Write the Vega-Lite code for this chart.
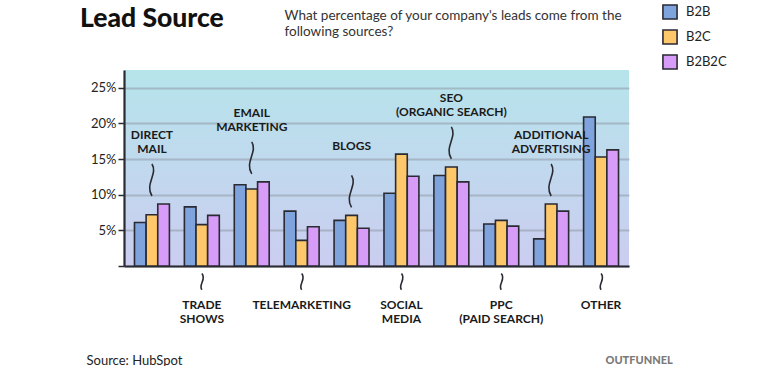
{
  "$schema": "https://vega.github.io/schema/vega-lite/v6.json",
  "autosize": {"type": "none"},
  "width": 505,
  "height": 196,
  "padding": {"left": 124, "top": 70, "right": 138, "bottom": 100},
  "background": "white",
  "title": {"text": "Lead Source", "anchor": "start", "frame": "group", "dx": -44, "dy": 38, "offset": 10, "font": "Lato", "fontSize": 26.5, "fontWeight": 900, "color": "#111111"},
  "datasets": {
    "leads": [
      {"category": "Direct Mail", "segment": "B2B", "value": 6.1},
      {"category": "Direct Mail", "segment": "B2C", "value": 7.2},
      {"category": "Direct Mail", "segment": "B2B2C", "value": 8.7},
      {"category": "Trade Shows", "segment": "B2B", "value": 8.3},
      {"category": "Trade Shows", "segment": "B2C", "value": 5.8},
      {"category": "Trade Shows", "segment": "B2B2C", "value": 7.1},
      {"category": "Email Marketing", "segment": "B2B", "value": 11.4},
      {"category": "Email Marketing", "segment": "B2C", "value": 10.8},
      {"category": "Email Marketing", "segment": "B2B2C", "value": 11.8},
      {"category": "Telemarketing", "segment": "B2B", "value": 7.7},
      {"category": "Telemarketing", "segment": "B2C", "value": 3.6},
      {"category": "Telemarketing", "segment": "B2B2C", "value": 5.5},
      {"category": "Blogs", "segment": "B2B", "value": 6.4},
      {"category": "Blogs", "segment": "B2C", "value": 7.1},
      {"category": "Blogs", "segment": "B2B2C", "value": 5.3},
      {"category": "Social Media", "segment": "B2B", "value": 10.2},
      {"category": "Social Media", "segment": "B2C", "value": 15.7},
      {"category": "Social Media", "segment": "B2B2C", "value": 12.6},
      {"category": "SEO (Organic Search)", "segment": "B2B", "value": 12.7},
      {"category": "SEO (Organic Search)", "segment": "B2C", "value": 13.9},
      {"category": "SEO (Organic Search)", "segment": "B2B2C", "value": 11.8},
      {"category": "PPC (Paid Search)", "segment": "B2B", "value": 5.9},
      {"category": "PPC (Paid Search)", "segment": "B2C", "value": 6.4},
      {"category": "PPC (Paid Search)", "segment": "B2B2C", "value": 5.6},
      {"category": "Additional Advertising", "segment": "B2B", "value": 3.8},
      {"category": "Additional Advertising", "segment": "B2C", "value": 8.7},
      {"category": "Additional Advertising", "segment": "B2B2C", "value": 7.7},
      {"category": "Other", "segment": "B2B", "value": 20.9},
      {"category": "Other", "segment": "B2C", "value": 15.3},
      {"category": "Other", "segment": "B2B2C", "value": 16.3}
    ]
  },
  "data": {"name": "leads"},
  "encoding": {
    "y": {
      "field": "value", "type": "quantitative", "scale": {"domain": [0, 27.5]},
      "axis": {
        "title": ["What percentage of your company's leads come from the", "following sources?"],
        "titleAngle": 0, "titleX": 160, "titleY": -62, "titleAlign": "left", "titleBaseline": "top", "titleAnchor": null,
        "titleFont": "Lato", "titleFontSize": 13.5, "titleFontWeight": "normal", "titleColor": "#333333", "titleLineHeight": 16,
        "values": [0, 5, 10, 15, 20, 25],
        "labelExpr": "datum.value == 0 ? '' : datum.value + '%'",
        "labelFont": "Lato", "labelFontSize": 13, "labelColor": "#222222", "labelPadding": 2, "labelOverlap": false,
        "ticks": true, "tickSize": 6, "tickColor": "#2a2a33", "tickWidth": 1.5,
        "domainColor": "#2a2a33", "domainWidth": 2.2,
        "grid": true, "gridColor": "#8f99a6", "gridWidth": 2, "gridOpacity": 0.55
      }
    }
  },
  "layer": [
    {
      "mark": {"type": "bar", "stroke": "#2a2a33", "strokeWidth": 1.6},
      "encoding": {
        "x": {
          "field": "category", "type": "nominal",
          "sort": ["Direct Mail", "Trade Shows", "Email Marketing", "Telemarketing", "Blogs", "Social Media", "SEO (Organic Search)", "PPC (Paid Search)", "Additional Advertising", "Other"],
          "scale": {"paddingInner": 0.3, "paddingOuter": 0.21},
          "axis": {
            "title": "Source: HubSpot", "titleX": -38, "titleY": 94, "titleAnchor": null, "titleAlign": "left", "titleBaseline": "middle",
            "titleFont": "Lato", "titleFontSize": 13, "titleFontWeight": "normal", "titleColor": "#222222",
            "labelAngle": 0, "ticks": false, "labelPadding": 38, "labelBaseline": "middle", "labelOverlap": false, "labelLimit": 0,
            "labelFont": "Lato", "labelFontWeight": "bold", "labelFontSize": 12, "labelLineHeight": 14.5, "labelColor": "#1a1a1a",
            "labelExpr": "indexof(['Trade Shows','Telemarketing','Social Media','PPC (Paid Search)','Other'], datum.label) >= 0 ? (indexof(datum.label,'(') > 0 ? [upper(slice(datum.label,0,indexof(datum.label,' ('))), upper(slice(datum.label,indexof(datum.label,'(')))] : split(upper(datum.label),' ')) : ''",
            "domainColor": "#2a2a33", "domainWidth": 2.2
          }
        },
        "xOffset": {"field": "segment", "type": "nominal", "sort": ["B2B", "B2C", "B2B2C"], "scale": {"paddingInner": 0}},
        "fill": {
          "field": "segment", "type": "nominal",
          "scale": {"domain": ["B2B", "B2C", "B2B2C"], "range": ["#7fa3dc", "#fdc76a", "#d69cf7"]},
          "legend": {
            "orient": "none", "legendX": 538, "legendY": -66, "title": null,
            "symbolType": "square", "symbolSize": 200, "symbolStrokeColor": "#2a2a33", "symbolStrokeWidth": 1.6,
            "labelFont": "Lato", "labelFontSize": 13, "labelColor": "#222222", "rowPadding": 3, "labelOffset": 8
          }
        }
      }
    },
    {
      "transform": [
        {"aggregate": [{"op": "max", "field": "value", "as": "value"}], "groupby": ["category"]},
        {"filter": "indexof(['Direct Mail','Email Marketing','Blogs','SEO (Organic Search)','Additional Advertising'], datum.category) >= 0"},
        {"calculate": "indexof(datum.category,'(') > 0 ? [upper(slice(datum.category,0,indexof(datum.category,' ('))), upper(slice(datum.category,indexof(datum.category,'(')))] : split(upper(datum.category),' ')", "as": "label"}
      ],
      "mark": {"type": "text", "baseline": "bottom", "dy": -62, "font": "Lato", "fontWeight": "bold", "fontSize": 12, "lineHeight": 14.5, "color": "#1a1a1a"},
      "encoding": {
        "x": {
          "field": "category", "type": "nominal",
          "sort": ["Direct Mail", "Trade Shows", "Email Marketing", "Telemarketing", "Blogs", "Social Media", "SEO (Organic Search)", "PPC (Paid Search)", "Additional Advertising", "Other"],
          "axis": {
            "orient": "top", "title": "OUTFUNNEL", "titleX": 481, "titleY": 290, "titleAnchor": null, "titleAlign": "left", "titleBaseline": "middle",
            "titleFont": "Lato", "titleFontSize": 11, "titleFontWeight": 900, "titleColor": "#7a7a7a",
            "labels": false, "ticks": false, "domain": false, "grid": false
          }
        },
        "text": {"field": "label"}
      }
    },
    {
      "transform": [
        {"aggregate": [{"op": "max", "field": "value", "as": "value"}], "groupby": ["category"]},
        {"filter": "indexof(['Direct Mail','Email Marketing','Blogs','SEO (Organic Search)','Additional Advertising'], datum.category) >= 0"}
      ],
      "mark": {"type": "point", "shape": "M0,-0.32 C-0.3,-0.8 0.25,-1.2 0,-1.6", "size": 2500, "filled": false, "stroke": "#2a2a33", "strokeWidth": 1.6, "opacity": 1},
      "encoding": {
        "x": {
          "field": "category", "type": "nominal",
          "sort": ["Direct Mail", "Trade Shows", "Email Marketing", "Telemarketing", "Blogs", "Social Media", "SEO (Organic Search)", "PPC (Paid Search)", "Additional Advertising", "Other"],
          "axis": null
        }
      }
    },
    {
      "transform": [
        {"aggregate": [{"op": "min", "field": "value", "as": "value"}], "groupby": ["category"]},
        {"filter": "indexof(['Trade Shows','Telemarketing','Social Media','PPC (Paid Search)','Other'], datum.category) >= 0"}
      ],
      "mark": {"type": "point", "shape": "M0,0.3 C0.2,0.52 -0.15,0.75 0,0.95", "size": 2500, "filled": false, "stroke": "#2a2a33", "strokeWidth": 1.6, "opacity": 1},
      "encoding": {
        "x": {
          "field": "category", "type": "nominal",
          "sort": ["Direct Mail", "Trade Shows", "Email Marketing", "Telemarketing", "Blogs", "Social Media", "SEO (Organic Search)", "PPC (Paid Search)", "Additional Advertising", "Other"],
          "axis": null
        },
        "y": {"datum": 0, "type": "quantitative", "scale": {"domain": [0, 27.5]}, "axis": {
          "title": ["What percentage of your company's leads come from the", "following sources?"],
          "titleAngle": 0, "titleX": 160, "titleY": -62, "titleAlign": "left", "titleBaseline": "top", "titleAnchor": null,
          "titleFont": "Lato", "titleFontSize": 13.5, "titleFontWeight": "normal", "titleColor": "#333333", "titleLineHeight": 16,
          "values": [0, 5, 10, 15, 20, 25],
          "labelExpr": "datum.value == 0 ? '' : datum.value + '%'",
          "labelFont": "Lato", "labelFontSize": 13, "labelColor": "#222222", "labelPadding": 2, "labelOverlap": false,
          "ticks": true, "tickSize": 6, "tickColor": "#2a2a33", "tickWidth": 1.5,
          "domainColor": "#2a2a33", "domainWidth": 2.2,
          "grid": true, "gridColor": "#8f99a6", "gridWidth": 2, "gridOpacity": 0.55
        }}
      }
    }
  ],
  "resolve": {"axis": {"x": "independent"}},
  "config": {
    "view": {"stroke": null, "fill": {"gradient": "linear", "x1": 0, "y1": 0, "x2": 0, "y2": 1, "stops": [{"offset": 0, "color": "#b6e4eb"}, {"offset": 1, "color": "#cbcdf0"}]}}
  }
}
